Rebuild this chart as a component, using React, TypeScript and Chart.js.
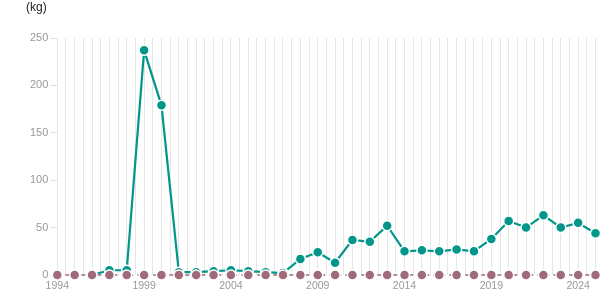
import React, { useEffect, useRef } from "react";
import { Chart, registerables } from "chart.js";

Chart.register(...registerables);

const years: number[] = [
  1994, 1995, 1996, 1997, 1998, 1999, 2000, 2001, 2002, 2003, 2004, 2005, 2006, 2007, 2008, 2009,
  2010, 2011, 2012, 2013, 2014, 2015, 2016, 2017, 2018, 2019, 2020, 2021, 2022, 2023, 2024, 2025,
];

const tealValues: (number | null)[] = [
  null, null, 0, 5, 5, 237, 179, 3, 3, 4, 5, 4, 3, 2, 17, 24,
  13, 37, 35, 52, 25, 26, 25, 27, 25, 38, 57, 50, 63, 50, 55, 44,
];

const maroonValues: number[] = [
  0, 0, 0, 0, 0, 0, 0, 0, 0, 0, 0, 0, 0, 0, 0, 0,
  0, 0, 0, 0, 0, 0, 0, 0, 0, 0, 0, 0, 0, 0, 0, 0,
];

const yTicks: number[] = [0, 50, 100, 150, 200, 250];
const xLabelYears: number[] = [1994, 1999, 2004, 2009, 2014, 2019, 2024];
const unitLabel = "(kg)";

const TEAL = "#009689";
const MAROON = "#9f6a7a";
const FONT = "'Liberation Sans Narrow', 'Liberation Sans', Arial, sans-serif";

export default function App() {
  const ref = useRef<HTMLCanvasElement | null>(null);

  useEffect(() => {
    if (!ref.current) return;
    const chart = new Chart(ref.current, {
      type: "line",
      data: {
        datasets: [
          {
            label: "b",
            data: years.map((y, i) => ({ x: y, y: maroonValues[i] })),
            borderColor: MAROON,
            backgroundColor: MAROON,
            borderWidth: 1.5,
            borderDash: [4, 4],
            pointRadius: 5,
            pointBorderWidth: 1.5,
            pointBorderColor: "#ffffff",
            pointBackgroundColor: MAROON,
            tension: 0,
            clip: false as any,
            order: 0,
          },
          {
            label: "a",
            data: years.map((y, i) => ({ x: y, y: tealValues[i] })),
            borderColor: TEAL,
            backgroundColor: TEAL,
            borderWidth: 2.2,
            pointRadius: 5,
            pointBorderWidth: 1.5,
            pointBorderColor: "#ffffff",
            pointBackgroundColor: TEAL,
            tension: 0,
            spanGaps: false,
            clip: false as any,
            order: 1,
          },
        ],
      },
      options: {
        animation: false,
        responsive: false,
        layout: { padding: { left: 0, top: 38, right: 19.5, bottom: 0 } },
        plugins: { legend: { display: false }, tooltip: { enabled: false }, title: { display: false } },
        scales: {
          x: {
            type: "linear",
            min: years[0],
            max: years[years.length - 1],
            border: { display: false },
            grid: { color: "#e6e6e6", lineWidth: 1, drawTicks: false },
            ticks: {
              stepSize: 0.5,
              autoSkip: false,
              maxRotation: 0,
              padding: 5,
              color: "#999999",
              font: { family: FONT, size: 10.5 },
              callback: (v: any) => (xLabelYears.includes(Number(v)) ? String(v) : ""),
            },
            afterFit: (s: any) => {
              s.height = 30;
            },
          },
          y: {
            type: "linear",
            min: yTicks[0],
            max: yTicks[yTicks.length - 1],
            border: { display: false },
            grid: { drawOnChartArea: false, drawTicks: true, tickLength: 7, color: "#dddddd" },
            afterBuildTicks: (s: any) => {
              s.ticks = yTicks.map((v) => ({ value: v }));
            },
            ticks: {
              padding: 2,
              color: "#999999",
              font: { family: FONT, size: 11 },
            },
            afterFit: (s: any) => {
              s.width = 57.3;
            },
          },
        },
      },
    });
    return () => chart.destroy();
  }, []);

  return (
    <div style={{ position: "absolute", left: 0, top: 0, width: 615, height: 305, background: "#fff" }}>
      <div
        style={{
          position: "absolute",
          left: 26,
          top: 0,
          fontFamily: "'Liberation Sans', Arial, sans-serif",
          fontSize: 12,
          color: "#222222",
          lineHeight: "normal",
        }}
      >
        {unitLabel}
      </div>
      <canvas ref={ref} width={615} height={305} style={{ display: "block" }} />
    </div>
  );
}
